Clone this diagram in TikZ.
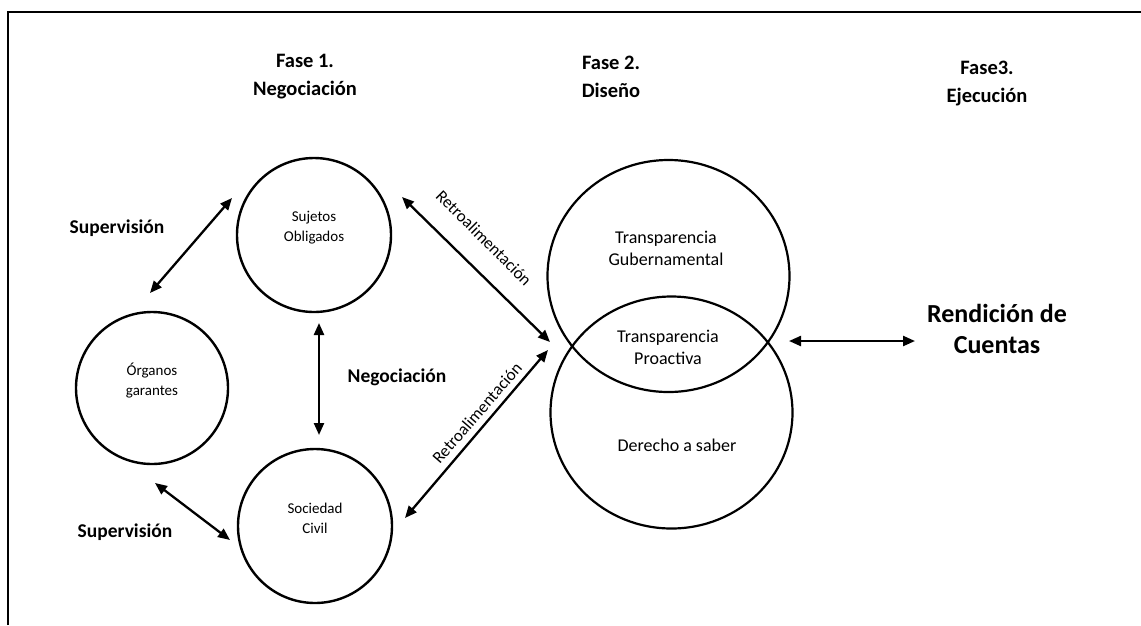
\documentclass[tikz,border=0pt]{standalone}
\usepackage{fontspec}
\setmainfont{Carlito}
\usetikzlibrary{arrows.meta,shapes.geometric}
\begin{document}
\begin{tikzpicture}[x=1pt,y=-1pt,
  ring/.style={draw, line width=2.4pt, circle, inner sep=0pt, minimum size=#1},
  big/.style={draw, line width=2.2pt, ellipse, inner sep=0pt, minimum width=242pt, minimum height=232pt},
  arr/.style={line width=2.3pt, {Triangle[length=12pt,width=10pt]}-{Triangle[length=12pt,width=10pt]}},
  head/.style={font=\bfseries\fontsize{20.5}{28}\selectfont, align=center},
  lbl/.style={font=\bfseries\fontsize{19.5}{23}\selectfont},
  small/.style={font=\fontsize{15}{20}\selectfont, align=center},
  mid/.style={font=\fontsize{18}{22}\selectfont, align=center},
  retro/.style={font=\fontsize{17}{20}\selectfont, inner sep=0pt},
  big text/.style={font=\bfseries\fontsize{26}{31}\selectfont, align=center}
]
\useasboundingbox (0,0) rectangle (1141,625);
\draw[line width=2pt] (8,625) -- (8,12) -- (1141,12);

% headings
\node[head] (f1) at (305,77) {Fase 1.\\Negociación};
\node[head] (f2) at (611,77) {Fase 2.\\Diseño};
\node[head] (f3) at (987,84) {Fase3.\\Ejecución};

% phase 1 circles
\node[ring=154pt] (so) at (314,235) {};
\node[small] (so-t) at (314,228) {Sujetos\\Obligados};
\node[ring=152pt] (og) at (152,388) {};
\node[small] (og-t) at (152,381) {Órganos\\garantes};
\node[ring=154pt] (sc) at (315,526) {};
\node[small] (sc-t) at (315,518) {Sociedad\\Civil};

% phase 2 ellipses
\node[big] (tg) at (668.5,276) {};
\node[big] (ds) at (671.5,412.5) {};
\node[mid] (tg-t) at (666,248) {Transparencia\\Gubernamental};
\node[mid] (tp-t) at (668,347) {Transparencia\\Proactiva};
\node[mid] (ds-t) at (677,445) {Derecho a saber};

% phase 3
\node[big text] (rc) at (997,329) {Rendición de\\Cuentas};

% labels
\node[lbl] (sup1) at (117,228) {Supervisión};
\node[lbl] (sup2) at (125,532) {Supervisión};
\node[lbl] (neg) at (397,377) {Negociación};
\node[retro, rotate=-45] (r1) at (484,238) {Retroalimentación};
\node[retro, rotate=49] (r2) at (477,413) {Retroalimentación};

% arrow end points
\coordinate (a1s) at (150,293); \coordinate (a1e) at (232,198);
\coordinate (a2s) at (319,323); \coordinate (a2e) at (319,435);
\coordinate (a3s) at (155,483); \coordinate (a3e) at (230,540);
\coordinate (a4s) at (402,197); \coordinate (a4e) at (550,342);
\coordinate (a5s) at (405,518); \coordinate (a5e) at (548,350);
\coordinate (a6s) at (789,341); \coordinate (a6e) at (915,341);

\draw[arr] (a1s) -- (a1e);
\draw[arr] (a2s) -- (a2e);
\draw[arr] (a3s) -- (a3e);
\draw[arr] (a4s) -- (a4e);
\draw[arr] (a5s) -- (a5e);
\draw[arr] (a6s) -- (a6e);
\end{tikzpicture}
\end{document}
